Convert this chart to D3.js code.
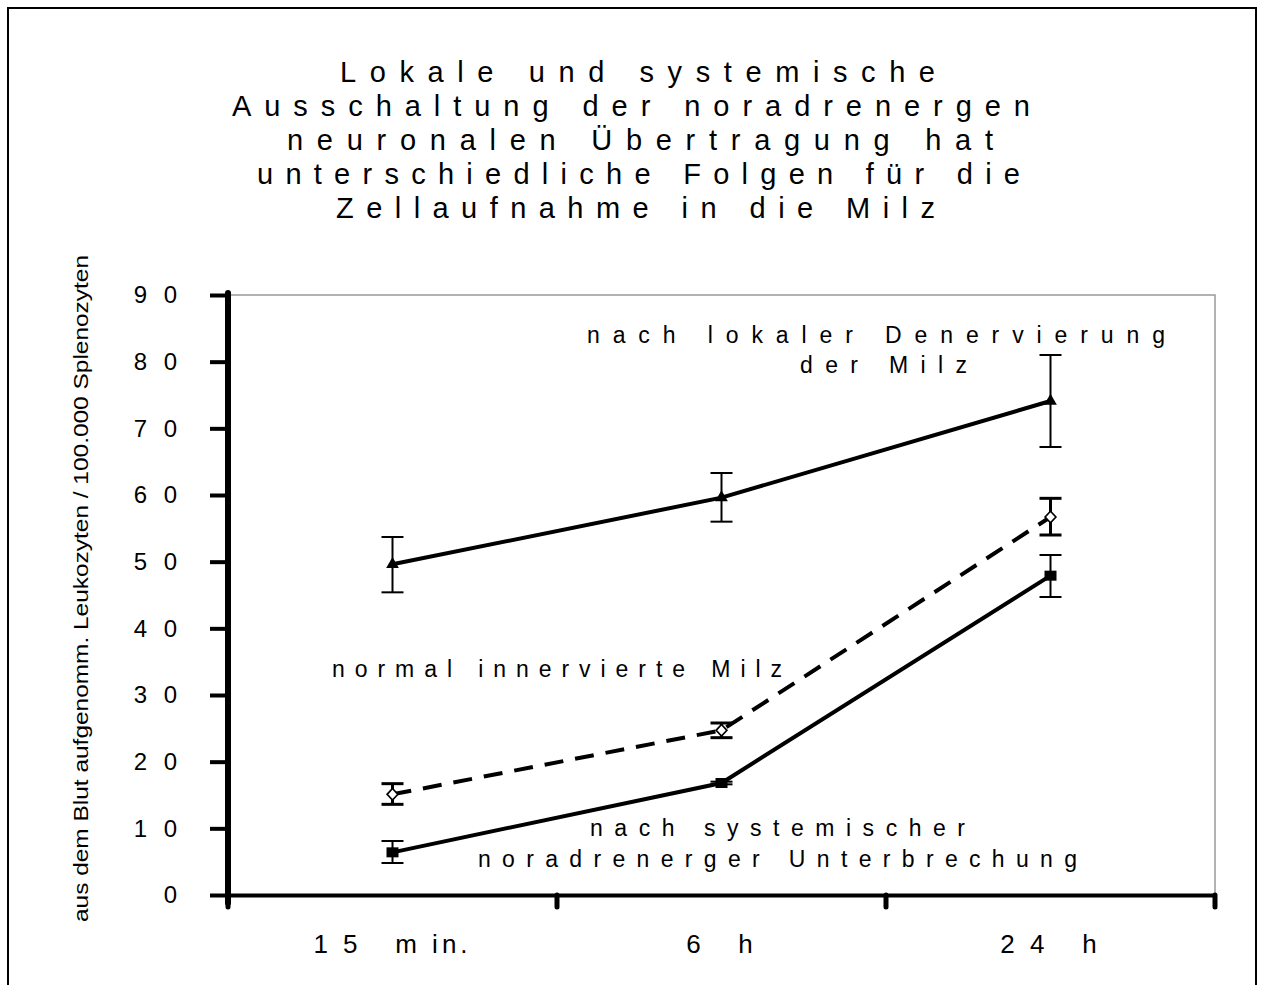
<!DOCTYPE html>
<html>
<head>
<meta charset="utf-8">
<script src="https://cdn.jsdelivr.net/npm/d3@7"></script>
<style>
  html, body { margin: 0; padding: 0; background: #fff; }
  svg { display: block; }
  text { font-family: "Liberation Sans", Arial, sans-serif; fill: #000; }
</style>
</head>
<body>
<svg id="chart" width="1264" height="985"></svg>
<script>
// ---- data ----
const categories = ["1 5   m in.", "6   h", "2 4   h"];
const yTicks = [0, 10, 20, 30, 40, 50, 60, 70, 80, 90];
const yTickLabels = ["0", "1 0", "2 0", "3 0", "4 0", "5 0", "6 0", "7 0", "8 0", "9 0"];

const denervMean = [49.6, 59.6, 74.1];
const denervHigh = [53.7, 63.3, 81.0];
const denervLow  = [45.4, 56.0, 67.2];

const normalMean = [15.1, 24.7, 56.7];
const normalHigh = [16.7, 25.8, 59.5];
const normalLow  = [13.6, 23.6, 54.0];

const systemMean = [6.4, 16.8, 47.9];
const systemHigh = [8.1, 17.0, 51.0];
const systemLow  = [4.8, 16.6, 44.7];

const titleLines = [
  "Lokale und systemische",
  "Ausschaltung der noradrenergen",
  "neuronalen Übertragung hat",
  "unterschiedliche Folgen für die",
  "Zellaufnahme in die Milz"
];
const yAxisTitle = "aus dem Blut aufgenomm. Leukozyten / 100.000 Splenozyten";

// ---- layout ----
const svg = d3.select("#chart");
const L = 228, R = 1215, T = 295, B = 895;

svg.append("rect").attr("x", 8).attr("y", 8).attr("width", 1248).attr("height", 990)
  .attr("fill", "none").attr("stroke", "#000").attr("stroke-width", 2);

const x = d3.scaleBand().domain(categories).range([L, R]).padding(0);
const y = d3.scaleLinear().domain([0, 90]).range([B, T]);
const cx = c => x(c) + x.bandwidth() / 2;

// plot frame (gray top/right)
svg.append("path").attr("d", `M${L},${T}H${R}V${B}`)
  .attr("fill", "none").attr("stroke", "#999").attr("stroke-width", 1.5);

// title
const titleSpec = [[340, 935, 82], [232, 1030, 116], [287, 993, 150], [257, 1020, 184], [336, 935, 218]];
titleLines.forEach((t, i) => {
  const [x0, x1, by] = titleSpec[i];
  svg.append("text").attr("x", x0).attr("y", by)
    .attr("font-size", 29)
    .attr("textLength", x1 - x0).attr("lengthAdjust", "spacing")
    .text(t);
});

// y axis
const yAxis = d3.axisLeft(y).tickValues(yTicks).tickFormat((d, i) => yTickLabels[i]).tickSize(18).tickPadding(28);
const gy = svg.append("g").attr("transform", `translate(${L},0)`).call(yAxis);
gy.select(".domain").remove();
gy.selectAll(".tick line").attr("stroke", "#000").attr("stroke-width", 4);
gy.selectAll(".tick text").attr("font-size", 24).attr("font-family", "Liberation Sans, Arial, sans-serif")
  .attr("fill", "#000").attr("letter-spacing", "5px");

// x axis
const xAxis = d3.axisBottom(x).tickValues([]).tickSizeOuter(0);
const gx = svg.append("g").attr("transform", `translate(0,${B})`).call(xAxis);
gx.select(".domain").attr("stroke", "#000").attr("stroke-width", 4);
const xEdges = [L].concat(categories.map(c => x(c) + x.bandwidth()));
gx.selectAll("line.edge").data(xEdges).enter().append("line")
  .attr("x1", d => d).attr("x2", d => d).attr("y1", 0).attr("y2", 12)
  .attr("stroke", "#000").attr("stroke-width", 5).attr("stroke-linecap", "round");
// category labels
svg.selectAll("text.cat").data(categories).enter().append("text")
  .attr("x", d => cx(d)).attr("y", 953).attr("text-anchor", "middle")
  .attr("font-size", 26).attr("letter-spacing", "4px")
  .style("white-space", "pre")
  .text(d => d);

// thick y axis line
svg.append("line").attr("x1", L).attr("x2", L).attr("y1", T - 2).attr("y2", 903)
  .attr("stroke", "#000").attr("stroke-width", 6).attr("stroke-linecap", "round");

// y axis title
svg.append("text")
  .attr("transform", `translate(88,${(255 + 922) / 2}) rotate(-90)`)
  .attr("text-anchor", "middle").attr("font-size", 21)
  .attr("textLength", 667).attr("lengthAdjust", "spacingAndGlyphs")
  .text(yAxisTitle);

// ---- series ----
function errorBars(mean, hi, lo, w) {
  const g = svg.append("g").attr("stroke", "#000").attr("stroke-width", w);
  categories.forEach((c, i) => {
    const px = cx(c);
    g.append("line").attr("x1", px).attr("x2", px).attr("y1", y(hi[i])).attr("y2", y(lo[i]));
    g.append("line").attr("x1", px - 11).attr("x2", px + 11).attr("y1", y(hi[i])).attr("y2", y(hi[i]));
    g.append("line").attr("x1", px - 11).attr("x2", px + 11).attr("y1", y(lo[i])).attr("y2", y(lo[i]));
  });
}
const line = d3.line().x((d, i) => cx(categories[i])).y(d => y(d));

// denervated
errorBars(denervMean, denervHigh, denervLow, 2);
svg.append("path").datum(denervMean).attr("d", line).attr("fill", "none")
  .attr("stroke", "#000").attr("stroke-width", 4);
svg.selectAll("path.tri").data(denervMean).enter().append("path")
  .attr("d", d3.symbol().type(d3.symbolTriangle).size(70))
  .attr("transform", (d, i) => `translate(${cx(categories[i])},${y(d)})`)
  .attr("fill", "#000");

// normal (dashed)
errorBars(normalMean, normalHigh, normalLow, 3);
svg.append("path").datum(normalMean).attr("d", line).attr("fill", "none")
  .attr("stroke", "#000").attr("stroke-width", 4).attr("stroke-dasharray", "19,12");
svg.selectAll("path.dia").data(normalMean).enter().append("path")
  .attr("d", d3.symbol().type(d3.symbolDiamond).size(60))
  .attr("transform", (d, i) => `translate(${cx(categories[i])},${y(d)}) scale(1.3,0.8)`)
  .attr("fill", "#fff").attr("stroke", "#000").attr("stroke-width", 1.5);

// systemic
errorBars(systemMean, systemHigh, systemLow, 2);
svg.append("path").datum(systemMean).attr("d", line).attr("fill", "none")
  .attr("stroke", "#000").attr("stroke-width", 4);
svg.selectAll("rect.sq").data(systemMean).enter().append("rect")
  .attr("x", (d, i) => cx(categories[i]) - 6).attr("y", d => y(d) - 5)
  .attr("width", 12).attr("height", 10).attr("fill", "#000");

// annotations
const notes = [
  ["nach lokaler Denervierung", 587, 1165, 343],
  ["der Milz", 800, 967, 373],
  ["normal innervierte Milz", 332, 782, 677],
  ["nach systemischer", 590, 965, 836],
  ["noradrenerger Unterbrechung", 478, 1077, 867]
];
notes.forEach(([t, x0, x1, by]) => {
  svg.append("text").attr("x", x0).attr("y", by).attr("font-size", 23)
    .attr("textLength", x1 - x0).attr("lengthAdjust", "spacing").text(t);
});
</script>
</body>
</html>
